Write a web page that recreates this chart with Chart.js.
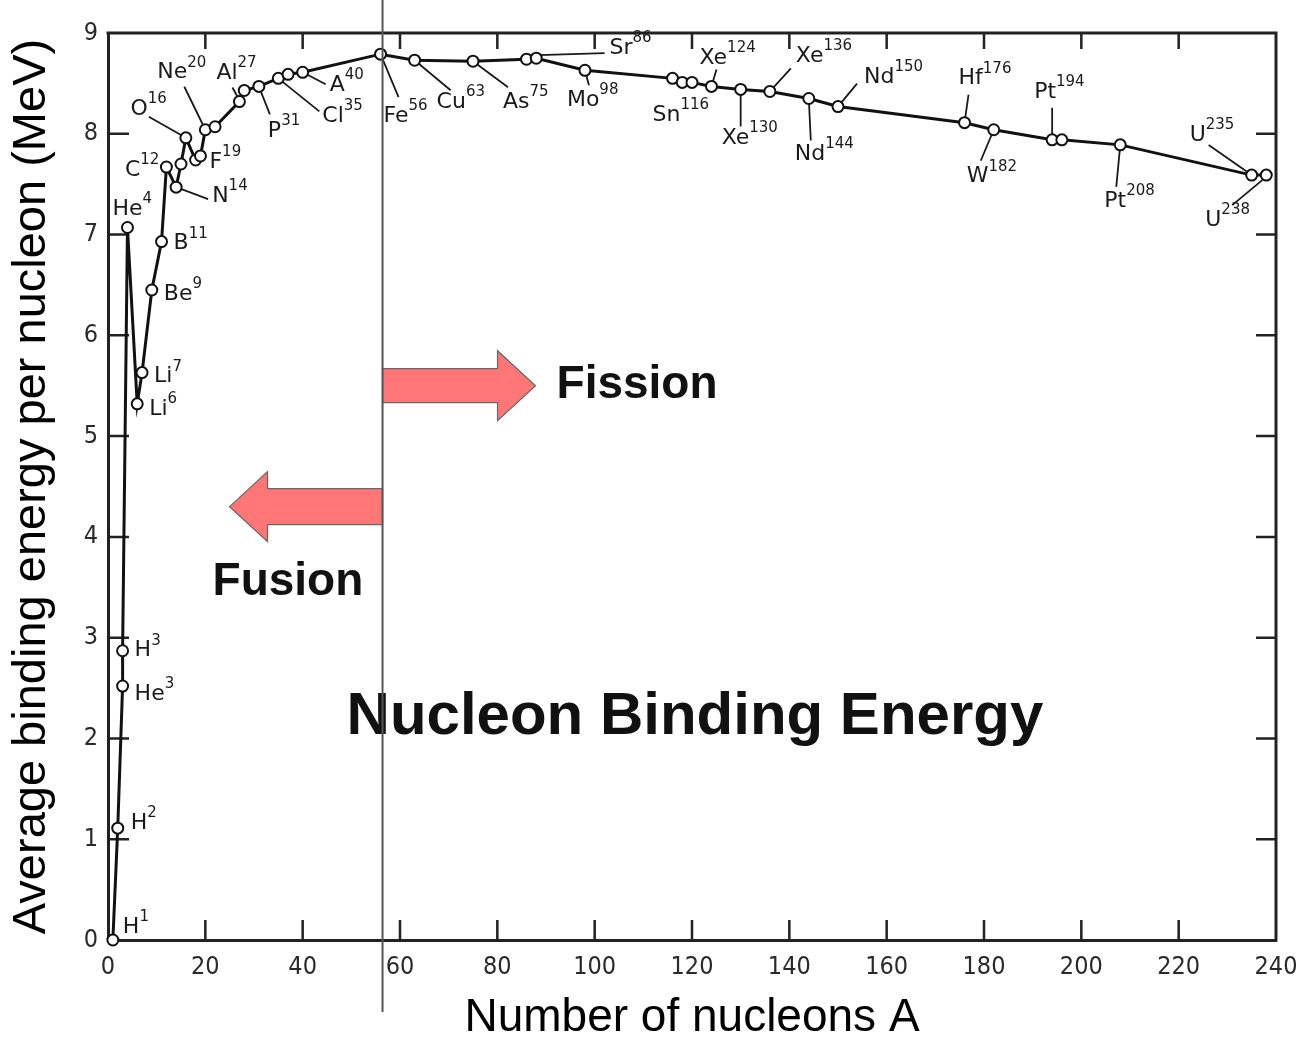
<!DOCTYPE html>
<html lang="en">
<head>
<meta charset="UTF-8">
<title>Nucleon Binding Energy</title>
<script src="https://cdn.jsdelivr.net/npm/chart.js"></script>
<style>
  html, body { margin: 0; padding: 0; background: #fff; }
  #wrap { width: 1301px; height: 1038px; }
</style>
</head>
<body>
<div id="wrap"><canvas id="bindingChart" width="1301" height="1038"></canvas></div>
<script>
// mass number A of each plotted nucleus
const massNumber = [1, 2, 3, 3, 4, 6, 7, 9, 11, 12, 14, 15, 16, 18, 19, 20, 22, 27, 28, 31, 35, 37, 40,
  56, 63, 75, 86, 88, 98, 116, 118, 120, 124, 130, 136, 144, 150, 176, 182, 194, 196, 208, 235, 238];
// average binding energy per nucleon, MeV
const bindingEnergy = [0.00, 1.11, 2.52, 2.87, 7.07, 5.32, 5.63, 6.45, 6.93, 7.67, 7.47, 7.70, 7.96, 7.74, 7.78, 8.04, 8.07, 8.32, 8.43, 8.47, 8.55, 8.59, 8.61,
  8.79, 8.73, 8.72, 8.74, 8.75, 8.63, 8.55, 8.51, 8.51, 8.47, 8.44, 8.42, 8.35, 8.27, 8.11, 8.04, 7.94, 7.94, 7.89, 7.59, 7.59];
// element symbol of each nucleus (old-style symbols kept as printed)
const symbol = ['H', 'H', 'He', 'H', 'He', 'Li', 'Li', 'Be', 'B', 'C', 'N', 'N', 'O', 'O', 'F', 'Ne', 'Ne', 'Al', 'Si', 'P', 'Cl', 'Cl', 'A',
  'Fe', 'Cu', 'As', 'Sr', 'Sr', 'Mo', 'Sn', 'Sn', 'Sn', 'Xe', 'Xe', 'Xe', 'Nd', 'Nd', 'Hf', 'W', 'Pt', 'Pt', 'Pt', 'U', 'U'];

const aTicks = [0, 20, 40, 60, 80, 100, 120, 140, 160, 180, 200, 220, 240];
const eTicks = [0, 1, 2, 3, 4, 5, 6, 7, 8, 9];

// where each named nucleus gets its label (pixel offsets from the marker)
// leader: [x1, y1, x2, y2] offsets of the pointer line
const labelPlacement = {
  H1: { dx: 10, dy: -13 },
  H2: { dx: 13, dy: -5 },
  He3: { dx: 12, dy: 8 },
  H3: { dx: 12, dy: 0 },
  He4: { dx: -15, dy: -18 },
  Li6: { dx: 12, dy: 5 },
  Li7: { dx: 12, dy: 4 },
  Be9: { dx: 12, dy: 4 },
  B11: { dx: 12, dy: 2 },
  C12: { dx: -7, dy: 3, align: 'right' },
  N14: { dx: 36, dy: 9, leader: [0, 0, 32, 12] },
  O16: { dx: -19, dy: -29, align: 'right', leader: [0, 0, -37, -21] },
  F19: { dx: 9, dy: 6 },
  Ne20: { dx: -48, dy: -57, leader: [0, 0, -21, -43] },
  Al27: { dx: -23, dy: -28, leader: [-2, -5, -7, -14] },
  P31: { dx: 9, dy: 45, leader: [0, 0, 11, 28] },
  Cl35: { dx: 44, dy: 38, leader: [0, 0, 41, 33] },
  A40: { dx: 27, dy: 13, leader: [0, 0, 23, 12] },
  Fe56: { dx: 3, dy: 62, leader: [0, 0, 18, 43] },
  Cu63: { dx: 22, dy: 42, leader: [0, 0, 36, 30] },
  As75: { dx: 30, dy: 41, leader: [0, 0, 35, 26] },
  Sr86: { dx: 83, dy: -11, leader: [12, -4, 78, -6] },
  Mo98: { dx: -18, dy: 30, leader: [0, 0, 4, 15] },
  Sn116: { dx: -20, dy: 37 },
  Xe124: { dx: -12, dy: -28, leader: [0, 0, 5, -17] },
  Xe130: { dx: -19, dy: 49, leader: [0, 0, 0, 37] },
  Xe136: { dx: 26, dy: -35, leader: [0, 0, 21, -23] },
  Nd144: { dx: -14, dy: 56, leader: [0, 0, 2, 42] },
  Nd150: { dx: 26, dy: -29, leader: [0, 0, 19, -23] },
  Hf176: { dx: -6, dy: -44, leader: [0, 0, 4, -28] },
  W182: { dx: -27, dy: 47, leader: [0, 0, -13, 31] },
  Pt194: { dx: -18, dy: -48, leader: [0, 0, 0, -32] },
  Pt208: { dx: -16, dy: 56, leader: [0, 0, -4, 42] },
  U235: { dx: -62, dy: -40, leader: [0, 0, -43, -30] },
  U238: { dx: -61, dy: 45, leader: [-4, 5, -34, 30] }
};

const ironIndex = symbol.indexOf('Fe');
const fissionLevel = 5.5;   // MeV, height of the fission arrow
const fusionLevel = 4.3;    // MeV, height of the fusion arrow
const fusionTextLevel = 3.55;
const titleSpot = { a: 120.6, e: 2.21 };

const points = massNumber.map((a, i) => ({ x: a, y: bindingEnergy[i] }));
const labelFont = '"DejaVu Sans", sans-serif';
const tickFont = { family: '"Liberation Sans Narrow", "DejaVu Sans Condensed", sans-serif', size: 25 };

// closed box with inward tick marks on all four sides
const frameTicks = {
  id: 'frameTicks',
  beforeDatasetsDraw(chart) {
    const { ctx, chartArea: a, scales: { x, y } } = chart;
    ctx.save();
    ctx.strokeStyle = '#222';
    ctx.lineWidth = 3;
    ctx.beginPath();
    ctx.moveTo(a.left - 1.5, a.top);
    ctx.lineTo(a.right, a.top);
    ctx.lineTo(a.right, a.bottom + 1.5);
    ctx.stroke();
    ctx.lineWidth = 2.5;
    ctx.beginPath();
    aTicks.slice(1, -1).forEach(v => {
      const px = x.getPixelForValue(v);
      ctx.moveTo(px, a.bottom); ctx.lineTo(px, a.bottom - 20);
      ctx.moveTo(px, a.top); ctx.lineTo(px, a.top + 16);
    });
    eTicks.slice(1, -1).forEach(v => {
      const py = y.getPixelForValue(v);
      ctx.moveTo(a.left, py); ctx.lineTo(a.left + 21, py);
      ctx.moveTo(a.right, py); ctx.lineTo(a.right - 20, py);
    });
    ctx.stroke();

    // pointer lines for the nucleus labels, under the markers
    const meta = chart.getDatasetMeta(0);
    ctx.lineWidth = 1.8;
    ctx.strokeStyle = '#1a1a1a';
    ctx.beginPath();
    symbol.forEach((s, i) => {
      const p = labelPlacement[s + massNumber[i]];
      if (!p || !p.leader) return;
      const pt = meta.data[i];
      ctx.moveTo(pt.x + p.leader[0], pt.y + p.leader[1]);
      ctx.lineTo(pt.x + p.leader[2], pt.y + p.leader[3]);
    });
    ctx.stroke();
    ctx.restore();
  }
};

// nucleus labels with the mass number as a superscript
const isotopeLabels = {
  id: 'isotopeLabels',
  afterDatasetsDraw(chart) {
    const { ctx } = chart;
    const meta = chart.getDatasetMeta(0);
    ctx.save();
    ctx.fillStyle = '#1a1a1a';
    ctx.textBaseline = 'middle';
    ctx.textAlign = 'left';
    symbol.forEach((s, i) => {
      const sup = String(massNumber[i]);
      const p = labelPlacement[s + sup];
      if (!p) return;
      const pt = meta.data[i];
      ctx.font = '22px ' + labelFont;
      const w1 = ctx.measureText(s).width;
      ctx.font = '15px ' + labelFont;
      const w2 = ctx.measureText(sup).width;
      let x0 = pt.x + p.dx;
      if (p.align === 'right') x0 -= w1 + w2;
      const y0 = pt.y + p.dy;
      ctx.font = '22px ' + labelFont;
      ctx.fillText(s, x0, y0);
      ctx.font = '15px ' + labelFont;
      ctx.fillText(sup, x0 + w1, y0 - 10);
    });
    ctx.restore();
  }
};

function arrowPath(ctx, x0, yc, dir, bodyLen, headLen, bodyHalf, headHalf) {
  ctx.beginPath();
  ctx.moveTo(x0, yc - bodyHalf);
  ctx.lineTo(x0 + dir * bodyLen, yc - bodyHalf);
  ctx.lineTo(x0 + dir * bodyLen, yc - headHalf);
  ctx.lineTo(x0 + dir * (bodyLen + headLen), yc);
  ctx.lineTo(x0 + dir * bodyLen, yc + headHalf);
  ctx.lineTo(x0 + dir * bodyLen, yc + bodyHalf);
  ctx.lineTo(x0, yc + bodyHalf);
  ctx.closePath();
  ctx.fill();
  ctx.stroke();
}

// fission / fusion arrows either side of iron, captions, and the divider line
const fissionFusion = {
  id: 'fissionFusion',
  afterDatasetsDraw(chart) {
    const { ctx, scales: { x, y } } = chart;
    const lx = x.getPixelForValue(massNumber[ironIndex]) + 2;
    ctx.save();
    ctx.fillStyle = '#ff7676';
    ctx.strokeStyle = '#666';
    ctx.lineWidth = 1.2;
    arrowPath(ctx, lx, y.getPixelForValue(fissionLevel), 1, 115, 38, 17, 35);
    arrowPath(ctx, lx, y.getPixelForValue(fusionLevel), -1, 115, 38, 18, 35);

    ctx.fillStyle = '#111';
    ctx.textBaseline = 'middle';
    ctx.textAlign = 'left';
    ctx.font = 'bold 46px "Liberation Sans", Arial, sans-serif';
    ctx.fillText('Fission', lx + 174, y.getPixelForValue(fissionLevel));
    ctx.fillText('Fusion', lx - 170, y.getPixelForValue(fusionTextLevel));
    ctx.textAlign = 'center';
    ctx.font = 'bold 60px "Liberation Sans", Arial, sans-serif';
    ctx.fillText('Nucleon Binding Energy', x.getPixelForValue(titleSpot.a), y.getPixelForValue(titleSpot.e));
    ctx.restore();
  },
  afterDraw(chart) {
    const { ctx, chartArea: a, scales: { x } } = chart;
    const lx = x.getPixelForValue(massNumber[ironIndex]) + 2;
    ctx.save();
    ctx.strokeStyle = '#555';
    ctx.lineWidth = 2;
    ctx.beginPath();
    ctx.moveTo(lx, 0);
    ctx.lineTo(lx, a.bottom + 72);
    ctx.stroke();
    ctx.restore();
  }
};

new Chart(document.getElementById('bindingChart').getContext('2d'), {
  type: 'line',
  data: {
    datasets: [{
      data: points,
      borderColor: '#111',
      borderWidth: 3,
      pointRadius: 5.5,
      pointBackgroundColor: '#fff',
      pointBorderColor: '#111',
      pointBorderWidth: 2,
      tension: 0,
      clip: false
    }]
  },
  options: {
    responsive: false,
    animation: false,
    events: [],
    layout: { padding: { top: 33, right: 25, left: 0, bottom: 0 } },
    plugins: { legend: { display: false }, tooltip: { enabled: false } },
    scales: {
      x: {
        type: 'linear',
        min: 0,
        max: 240,
        afterBuildTicks: s => { s.ticks = aTicks.map(v => ({ value: v })); },
        afterFit: s => { s.height = 98; s.paddingLeft = 0; s.paddingRight = 0; },
        grid: { display: false, drawTicks: false },
        border: { display: true, color: '#222', width: 3 },
        ticks: { font: tickFont, color: '#2a2a2a', padding: 12, maxRotation: 0, autoSkip: false },
        title: {
          display: true,
          text: 'Number of nucleons A',
          color: '#000',
          font: { family: '"Liberation Sans", Arial, sans-serif', size: 46, lineHeight: 0.8 },
          padding: { top: 0, bottom: 1 }
        }
      },
      y: {
        min: 0,
        max: 9,
        afterBuildTicks: s => { s.ticks = eTicks.map(v => ({ value: v })); },
        afterFit: s => { s.width = 108; s.paddingTop = 0; s.paddingBottom = 0; },
        grid: { display: false, drawTicks: false },
        border: { display: true, color: '#222', width: 3 },
        ticks: { font: tickFont, color: '#2a2a2a', padding: 10, autoSkip: false },
        title: {
          display: true,
          text: 'Average binding energy per nucleon (MeV)',
          color: '#000',
          font: { family: '"Liberation Sans", Arial, sans-serif', size: 47, lineHeight: 1 },
          padding: { top: 9, bottom: 0 }
        }
      }
    }
  },
  plugins: [frameTicks, isotopeLabels, fissionFusion]
});
</script>
</body>
</html>
